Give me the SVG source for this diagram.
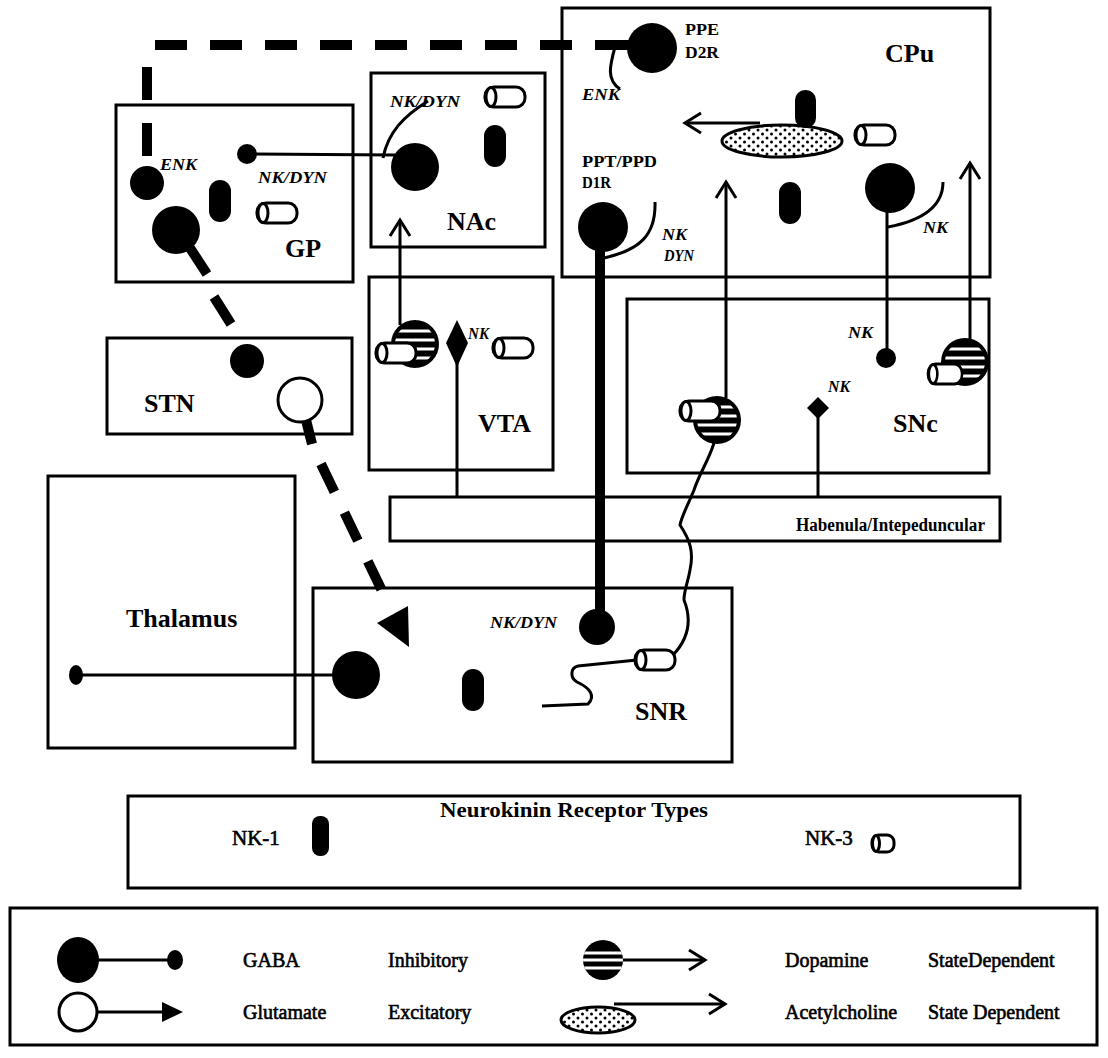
<svg xmlns="http://www.w3.org/2000/svg" width="1108" height="1058" viewBox="0 0 1108 1058">
<style>
.box{fill:none;stroke:#000;stroke-width:3}
.ln{fill:none;stroke:#000;stroke-width:3}
.lbl{font-family:"Liberation Serif",serif;font-weight:bold;font-size:26px;fill:#000}
.it{font-family:"Liberation Serif",serif;font-weight:bold;font-style:italic;font-size:17px;fill:#000}
.sm{font-family:"Liberation Serif",serif;font-weight:bold;font-size:16px;fill:#000}
.leg{font-family:"Liberation Serif",serif;font-size:20px;fill:#000;stroke:#000;stroke-width:0.6}
</style>
<defs>
<pattern id="dots" width="9" height="8" patternUnits="userSpaceOnUse">
<rect width="9" height="8" fill="#fff"/>
<circle cx="2" cy="2" r="1.5" fill="#000"/>
<circle cx="6.5" cy="6" r="1.5" fill="#000"/>
</pattern>
<clipPath id="daclip"><circle r="20"/></clipPath>
<marker id="open" viewBox="0 0 20 24" refX="17" refY="12" markerWidth="20" markerHeight="24" markerUnits="userSpaceOnUse" orient="auto">
<path d="M1,2 L17,12 L1,22" fill="none" stroke="#000" stroke-width="3"/>
</marker>
<g id="nk1"><rect x="-11" y="-21" width="22" height="42" rx="11" fill="#000"/></g>
<g id="nk3"><rect x="0" y="-10" width="40" height="20" rx="9" fill="#fff" stroke="#000" stroke-width="3"/><ellipse cx="6" cy="0" rx="5" ry="9.5" fill="#fff" stroke="#000" stroke-width="3"/></g>
<g id="da"><circle r="24" fill="#000"/><g clip-path="url(#daclip)" stroke="#fff" stroke-width="3"><line x1="-24" x2="24" y1="-13" y2="-13"/><line x1="-24" x2="24" y1="-4" y2="-4"/><line x1="-24" x2="24" y1="5" y2="5"/><line x1="-24" x2="24" y1="14" y2="14"/></g></g>
<g id="da3"><circle r="20" fill="#000"/><g clip-path="url(#daclip)" stroke="#fff" stroke-width="3"><line x1="-20" x2="20" y1="-7" y2="-7"/><line x1="-20" x2="20" y1="0" y2="0"/><line x1="-20" x2="20" y1="8" y2="8"/></g></g>
</defs>
<rect width="1108" height="1058" fill="#fff"/>

<g id="connectors">
<path d="M155,45 L627,45" fill="none" stroke="#000" stroke-width="10" stroke-dasharray="32 23"/>
<path d="M147,67 L147,157" fill="none" stroke="#000" stroke-width="10" stroke-dasharray="33 23"/>
<path d="M615,47 C610,65 606,80 620,89" class="ln"/>
<line x1="247" y1="154" x2="395" y2="155" class="ln"/>
<path d="M383,158 C388,132 404,116 428,101" class="ln"/>
<line x1="190" y1="248" x2="207" y2="274" stroke="#000" stroke-width="10"/>
<line x1="214" y1="297" x2="231" y2="324" stroke="#000" stroke-width="10"/>
<line x1="306" y1="420" x2="312" y2="444" stroke="#000" stroke-width="10"/>
<path d="M321,464 L385,597" fill="none" stroke="#000" stroke-width="10" stroke-dasharray="31 23"/>
<line x1="400" y1="325" x2="400" y2="220" class="ln" marker-end="url(#open)"/>
<line x1="457" y1="360" x2="457" y2="497" class="ln"/>
<line x1="818" y1="412" x2="818" y2="497" class="ln"/>
<line x1="600" y1="227" x2="600" y2="627" stroke="#000" stroke-width="10"/>
<path d="M604,258 C640,250 656,235 655,202" class="ln"/>
<line x1="726" y1="398" x2="726" y2="182" class="ln" marker-end="url(#open)"/>
<line x1="970" y1="339" x2="970" y2="163" class="ln" marker-end="url(#open)"/>
<line x1="887" y1="190" x2="887" y2="358" class="ln"/>
<path d="M888,227 C925,220 943,205 943,182" class="ln"/>
<line x1="760" y1="123" x2="685" y2="123" class="ln" marker-end="url(#open)"/>
<path d="M714,443 C708,462 700,472 694,490 C688,505 682,515 680,525 C690,540 694,552 690,570 C688,582 684,590 684,600 C690,615 692,635 673,655" class="ln"/>
<path d="M637,660 L578,666 C570,668 570,678 577,682 C590,688 596,696 588,704 L542,706" class="ln"/>
<line x1="76" y1="675" x2="356" y2="675" class="ln"/>
</g>

<g id="GP">
<rect class="box" x="116" y="105" width="237" height="177"/>
<circle cx="147" cy="183" r="17" fill="#000"/>
<circle cx="176" cy="230" r="24" fill="#000"/>
<circle cx="247" cy="154" r="10" fill="#000"/>
<use href="#nk1" x="220" y="201"/>
<use href="#nk3" x="257" y="213"/>
<text class="it" x="160" y="170" textLength="37" lengthAdjust="spacingAndGlyphs">ENK</text>
<text class="it" x="258" y="183" textLength="69" lengthAdjust="spacingAndGlyphs">NK/DYN</text>
<text class="lbl" x="285" y="257">GP</text>
</g>

<g id="NAc">
<rect class="box" x="371" y="73" width="174" height="174"/>
<circle cx="415" cy="167" r="24" fill="#000"/>
<use href="#nk1" x="495" y="146"/>
<use href="#nk3" x="485" y="97"/>
<text class="it" x="390" y="107" textLength="70" lengthAdjust="spacingAndGlyphs">NK/DYN</text>
<text class="lbl" x="447" y="230">NAc</text>
</g>

<g id="CPu">
<rect class="box" x="562" y="8" width="428" height="269"/>
<circle cx="652" cy="48" r="25" fill="#000"/>
<line x1="597" y1="45" x2="640" y2="45" stroke="#000" stroke-width="10"/>
<circle cx="603" cy="227" r="25" fill="#000"/>
<circle cx="890" cy="188" r="25" fill="#000"/>
<ellipse cx="782" cy="141" rx="60" ry="16" fill="url(#dots)" stroke="#000" stroke-width="3"/>
<rect x="795" y="90" width="21" height="38" rx="10" fill="#000"/>
<use href="#nk1" x="790" y="203"/>
<use href="#nk3" x="855" y="135"/>
<text class="sm" x="685" y="35" textLength="34" lengthAdjust="spacingAndGlyphs">PPE</text>
<text class="sm" x="685" y="58" textLength="34" lengthAdjust="spacingAndGlyphs">D2R</text>
<text class="it" x="582" y="100" textLength="38" lengthAdjust="spacingAndGlyphs">ENK</text>
<text class="lbl" x="885" y="62">CPu</text>
<text class="sm" x="582" y="167" textLength="75" lengthAdjust="spacingAndGlyphs">PPT/PPD</text>
<text class="sm" x="582" y="188" textLength="29" lengthAdjust="spacingAndGlyphs">D1R</text>
<text class="it" x="662" y="240" textLength="25" lengthAdjust="spacingAndGlyphs">NK</text>
<text class="it" x="664" y="261" textLength="30" lengthAdjust="spacingAndGlyphs">DYN</text>
<text class="it" x="923" y="233" textLength="25" lengthAdjust="spacingAndGlyphs">NK</text>
</g>

<g id="STN">
<rect class="box" x="107" y="338" width="245" height="96"/>
<circle cx="247" cy="361" r="17" fill="#000"/>
<circle cx="300" cy="400" r="22" fill="#fff" stroke="#000" stroke-width="3"/>
<text class="lbl" x="144" y="412">STN</text>
</g>

<g id="VTA">
<rect class="box" x="369" y="277" width="184" height="193"/>
<use href="#da" x="415" y="344"/>
<use href="#nk3" x="376" y="353"/>
<path d="M457,320 L468,343 L457,367 L446,343 Z" fill="#000"/>
<use href="#nk3" x="493" y="348"/>
<text class="it" x="468" y="339" textLength="21" lengthAdjust="spacingAndGlyphs">NK</text>
<text class="lbl" x="478" y="432">VTA</text>
</g>

<g id="SNc">
<rect class="box" x="627" y="299" width="362" height="174"/>
<use href="#da" x="717" y="420"/>
<use href="#nk3" x="680" y="411"/>
<use href="#da" x="965" y="362"/>
<use href="#nk3" x="928" y="374" transform="translate(928,374) scale(0.85,1) translate(-928,-374)"/>
<circle cx="886" cy="358" r="10" fill="#000"/>
<path d="M818,397 L829,408 L818,419 L807,408 Z" fill="#000"/>
<text class="it" x="848" y="338" textLength="25" lengthAdjust="spacingAndGlyphs">NK</text>
<text class="it" x="828" y="392" textLength="22" lengthAdjust="spacingAndGlyphs">NK</text>
<text class="lbl" x="893" y="432">SNc</text>
</g>

<g id="Habenula">
<rect class="box" x="390" y="497" width="610" height="44"/>
<text class="sm" x="796" y="531" style="font-size:18px" textLength="189" lengthAdjust="spacingAndGlyphs">Habenula/Intepeduncular</text>
</g>

<g id="Thalamus">
<rect class="box" x="48" y="476" width="247" height="272"/>
<ellipse cx="76" cy="675" rx="7" ry="10" fill="#000"/>
<text class="lbl" x="126" y="627">Thalamus</text>
</g>

<g id="SNR">
<rect class="box" x="313" y="588" width="419" height="174"/>
<path d="M377,623 L408,606 L409,647 Z" fill="#000"/>
<circle cx="356" cy="675" r="24" fill="#000"/>
<circle cx="597" cy="627" r="18" fill="#000"/>
<use href="#nk1" x="473" y="690"/>
<use href="#nk3" x="635" y="660"/>
<text class="it" x="490" y="628" textLength="67" lengthAdjust="spacingAndGlyphs">NK/DYN</text>
<text class="lbl" x="635" y="720">SNR</text>
</g>

<g id="nk-legend">
<rect class="box" x="128" y="796" width="892" height="92"/>
<text class="lbl" x="440" y="817" style="font-size:22px" textLength="268" lengthAdjust="spacingAndGlyphs">Neurokinin Receptor Types</text>
<text class="leg" x="232" y="845" style="font-size:21px">NK-1</text>
<rect x="312" y="816" width="17" height="40" rx="8" fill="#000"/>
<text class="leg" x="805" y="845" style="font-size:21px">NK-3</text>
<rect x="872" y="835" width="22" height="17" rx="7" fill="#fff" stroke="#000" stroke-width="3"/>
<ellipse cx="876" cy="843.5" rx="3.5" ry="8" fill="#fff" stroke="#000" stroke-width="3"/>
</g>

<g id="legend">
<rect class="box" x="10" y="908" width="1087" height="137"/>
<line x1="78" y1="960" x2="175" y2="960" class="ln"/>
<ellipse cx="78" cy="960" rx="21" ry="23" fill="#000"/>
<ellipse cx="175" cy="960" rx="8" ry="10" fill="#000"/>
<line x1="78" y1="1012" x2="165" y2="1012" class="ln"/>
<circle cx="78" cy="1012" r="19" fill="#fff" stroke="#000" stroke-width="3"/>
<path d="M162,1002 L183,1012 L162,1022 Z" fill="#000"/>
<text class="leg" x="243" y="967">GABA</text>
<text class="leg" x="388" y="967">Inhibitory</text>
<text class="leg" x="243" y="1019">Glutamate</text>
<text class="leg" x="388" y="1019">Excitatory</text>
<line x1="622" y1="960" x2="705" y2="960" class="ln" marker-end="url(#open)"/>
<use href="#da3" x="603" y="960"/>
<line x1="614" y1="1004" x2="725" y2="1004" class="ln" marker-end="url(#open)"/>
<ellipse cx="598" cy="1020" rx="37" ry="13" fill="url(#dots)" stroke="#000" stroke-width="3"/>
<text class="leg" x="785" y="967">Dopamine</text>
<text class="leg" x="928" y="967">StateDependent</text>
<text class="leg" x="785" y="1019">Acetylcholine</text>
<text class="leg" x="928" y="1019">State Dependent</text>
</g>
</svg>
